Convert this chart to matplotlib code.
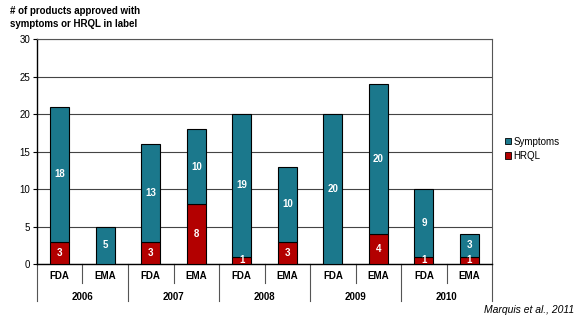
import numpy as np
import matplotlib
matplotlib.use("Agg")
import matplotlib.pyplot as plt
from matplotlib.patches import Patch

agencies = ["FDA", "EMA"] * 5
years = ["2006", "2007", "2008", "2009", "2010"]
hrql = [3, 0, 3, 8, 1, 3, 0, 4, 1, 1]
symptoms = [18, 5, 13, 10, 19, 10, 20, 20, 9, 3]

TEAL = "#1b788c"
RED = "#b30000"

plt.rcParams['font.family'] = ['Liberation Sans', 'DejaVu Sans']

fig = plt.figure(figsize=(5.77, 3.2), dpi=100)
ax = fig.add_axes([0.064, 0.175, 0.789, 0.703])

x = np.arange(len(agencies))
w = 0.42
ax.bar(x, hrql, w, color=RED, edgecolor="black", linewidth=0.8, zorder=3)
ax.bar(x, symptoms, w, bottom=hrql, color=TEAL, edgecolor="black", linewidth=0.8, zorder=3)

for i in x:
    if hrql[i] > 0:
        ax.text(i, hrql[i] / 2, str(hrql[i]), ha="center", va="center",
                color="white", fontsize=7, fontweight="bold", zorder=4)
    if symptoms[i] > 0:
        ax.text(i, hrql[i] + symptoms[i] / 2, str(symptoms[i]), ha="center", va="center",
                color="white", fontsize=7, fontweight="bold", zorder=4)

ax.set_xlim(-0.5, len(agencies) - 0.5)
ax.set_ylim(0, 30)
ax.set_yticks(range(0, 31, 5))
ax.tick_params(axis="y", labelsize=7, length=3, width=0.8, pad=2)
ax.set_xticks([])
ax.yaxis.grid(True, color="#444444", linewidth=0.8, zorder=0)
ax.spines["left"].set_linewidth(1.0)
ax.spines["bottom"].set_linewidth(1.0)
ax.spines["top"].set_color("#555555")
ax.spines["right"].set_color("#555555")

# two-level category axis
trans = ax.get_xaxis_transform()
for i, a in enumerate(agencies):
    ax.text(i, -0.053, a, transform=trans, ha="center", va="center",
            fontsize=7, fontweight="bold")
for k, yr in enumerate(years):
    ax.text(2 * k + 0.5, -0.147, yr, transform=trans, ha="center", va="center",
            fontsize=7, fontweight="bold")
for k in range(5):
    ax.plot([2 * k + 0.5] * 2, [0, -0.084], transform=trans, color="#555555",
            linewidth=0.8, clip_on=False)
for k in range(6):
    ax.plot([2 * k - 0.5] * 2, [0, -0.164], transform=trans, color="#555555",
            linewidth=0.8, clip_on=False)

handles = [Patch(facecolor=TEAL, edgecolor="black", linewidth=0.6),
           Patch(facecolor=RED, edgecolor="black", linewidth=0.6)]
fig.legend(handles, ["Symptoms", "HRQL"], loc="center left",
           bbox_to_anchor=(0.86, 0.535), frameon=False, fontsize=7,
           handlelength=0.6, handleheight=0.6, handletextpad=0.3, labelspacing=0.45)

fig.text(0.018, 0.98, "# of products approved with\nsymptoms or HRQL in label",
         ha="left", va="top", fontsize=7, fontweight="bold", linespacing=1.35)
fig.text(0.995, 0.03, "Marquis et al., 2011", ha="right", va="center",
         fontsize=7.5, style="italic")

fig.savefig("out.png", dpi=100)
